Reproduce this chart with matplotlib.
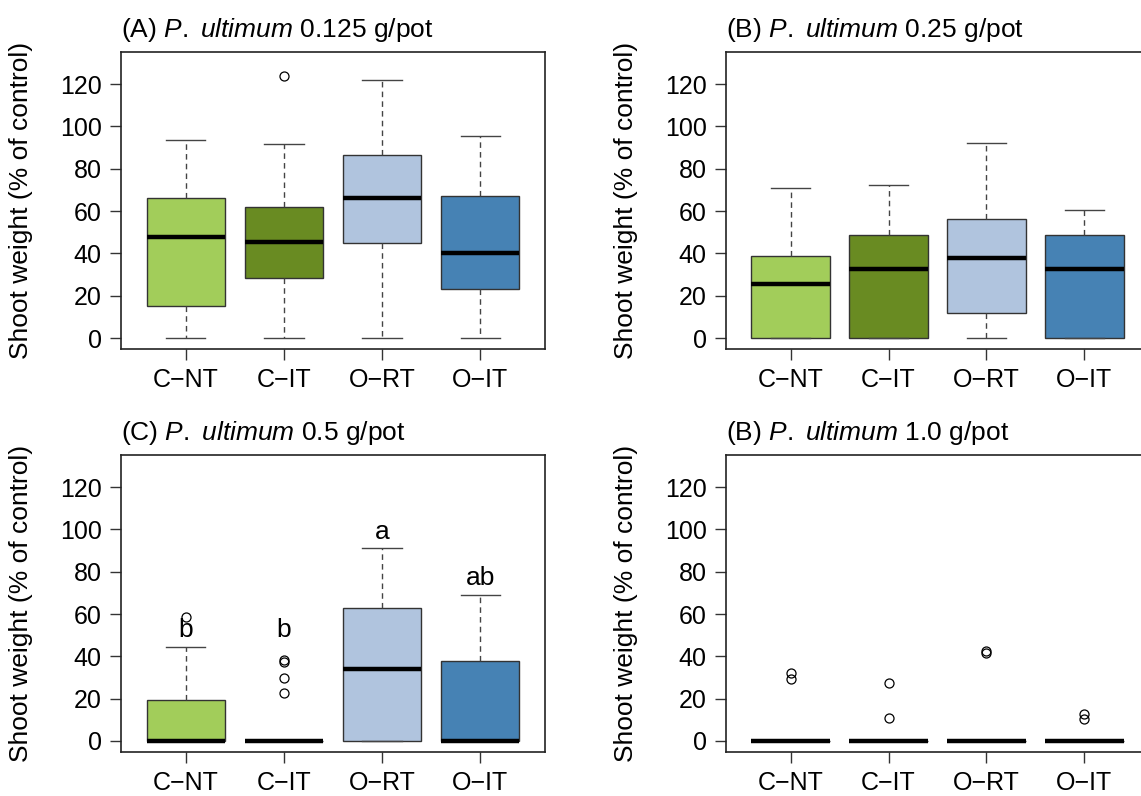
import matplotlib
matplotlib.use("Agg")
import matplotlib.pyplot as plt

plt.rcParams['font.family'] = ['Liberation Sans', 'DejaVu Sans']
plt.rcParams['mathtext.fontset'] = 'custom'
plt.rcParams['mathtext.rm'] = 'Liberation Sans'
plt.rcParams['mathtext.it'] = 'Liberation Sans:italic'

groups = ['C\u2212NT', 'C\u2212IT', 'O\u2212RT', 'O\u2212IT']
box_colors = ['#A2CD5A', '#698B22', '#B0C4DE', '#4682B4']

titles = [r'(A) $\mathit{P.}$ $\mathit{ultimum}$ 0.125 g/pot',
          r'(B) $\mathit{P.}$ $\mathit{ultimum}$ 0.25 g/pot',
          r'(C) $\mathit{P.}$ $\mathit{ultimum}$ 0.5 g/pot',
          r'(B) $\mathit{P.}$ $\mathit{ultimum}$ 1.0 g/pot']

# (A) 0.125 g/pot
a_low = [0, 0, 0, 0]
a_q1 = [15.1, 28.5, 45.1, 23.0]
a_med = [47.9, 45.4, 66.1, 40.0]
a_q3 = [66.4, 62.1, 86.6, 67.0]
a_high = [93.5, 91.8, 122.0, 95.6]
a_out = [[], [123.8], [], []]

# (B) 0.25 g/pot
b_low = [0, 0, 0, 0]
b_q1 = [0, 0, 11.7, 0]
b_med = [25.7, 32.8, 37.8, 32.8]
b_q3 = [38.6, 48.6, 56.4, 48.9]
b_high = [71.1, 72.2, 92.1, 60.5]
b_out = [[], [], [], []]

# (C) 0.5 g/pot
c_low = [0, 0, 0, 0]
c_q1 = [0, 0, 0, 0]
c_med = [0, 0, 34.2, 0]
c_q3 = [19.2, 0, 63.1, 38.0]
c_high = [44.4, 0, 91.3, 69.1]
c_out = [[58.6], [38.4, 37.3, 29.9, 22.7], [], []]
c_letters = ['b', 'b', 'a', 'ab']
c_letter_y = [52.5, 52.5, 99.0, 77.0]

# (D) 1.0 g/pot
d_low = [0, 0, 0, 0]
d_q1 = [0, 0, 0, 0]
d_med = [0, 0, 0, 0]
d_q3 = [0, 0, 0, 0]
d_high = [0, 0, 0, 0]
d_out = [[32.0, 29.2], [27.4, 10.7], [42.5, 41.6], [12.6, 10.4]]


def make_stats(low, q1, med, q3, high, out):
    return [dict(whislo=low[i], q1=q1[i], med=med[i], q3=q3[i],
                 whishi=high[i], fliers=out[i]) for i in range(len(low))]


panels = [make_stats(a_low, a_q1, a_med, a_q3, a_high, a_out),
          make_stats(b_low, b_q1, b_med, b_q3, b_high, b_out),
          make_stats(c_low, c_q1, c_med, c_q3, c_high, c_out),
          make_stats(d_low, d_q1, d_med, d_q3, d_high, d_out)]

W, H = 1141, 796
fig = plt.figure(figsize=(W / 100, H / 100), dpi=100)

# axes boxes in pixels: left, right, top, bottom
rects = [(121, 545, 52, 349), (726, 1149, 52, 349),
         (121, 545, 455, 752), (726, 1149, 455, 752)]

for k, (l, r, t, b) in enumerate(rects):
    ax = fig.add_axes([l / W, 1 - b / H, (r - l) / W, (b - t) / H])
    ax.bxp(panels[k], positions=[1, 2, 3, 4], widths=0.8, capwidths=0.4,
           patch_artist=True, showfliers=True,
           boxprops=dict(edgecolor='#333333', linewidth=1.0),
           medianprops=dict(color='black', linewidth=3.2, solid_capstyle='butt'),
           whiskerprops=dict(color='#444444', linewidth=1.0, linestyle=(0, (4, 3))),
           capprops=dict(color='#444444', linewidth=1.0),
           flierprops=dict(marker='o', markersize=6.5, markerfacecolor='none',
                           markeredgecolor='black', markeredgewidth=0.9))
    for patch, col in zip(ax.patches, box_colors):
        patch.set_facecolor(col)

    ax.set_xlim(0.34, 4.66)
    ax.set_ylim(-5.2, 135.2)
    ax.set_yticks(range(0, 121, 20))
    ax.set_xticks([1, 2, 3, 4])
    ax.set_xticklabels(groups)
    ax.tick_params(direction='out', length=8, width=1.0, color='#333333',
                   labelsize=18, pad=6)
    for sp in ax.spines.values():
        sp.set_linewidth(1.2)
        sp.set_color('#222222')
    ax.set_ylabel('Shoot weight (% of control)', fontsize=19)
    ax.yaxis.set_label_coords(-88 / (r - l), 0.5)
    ax.set_title(titles[k], loc='left', fontsize=19, pad=11)

    if k == 2:
        for i, lab in enumerate(c_letters):
            ax.text(i + 1, c_letter_y[i], lab, ha='center', va='center',
                    fontsize=19)

fig.savefig('out.png', dpi=100)
